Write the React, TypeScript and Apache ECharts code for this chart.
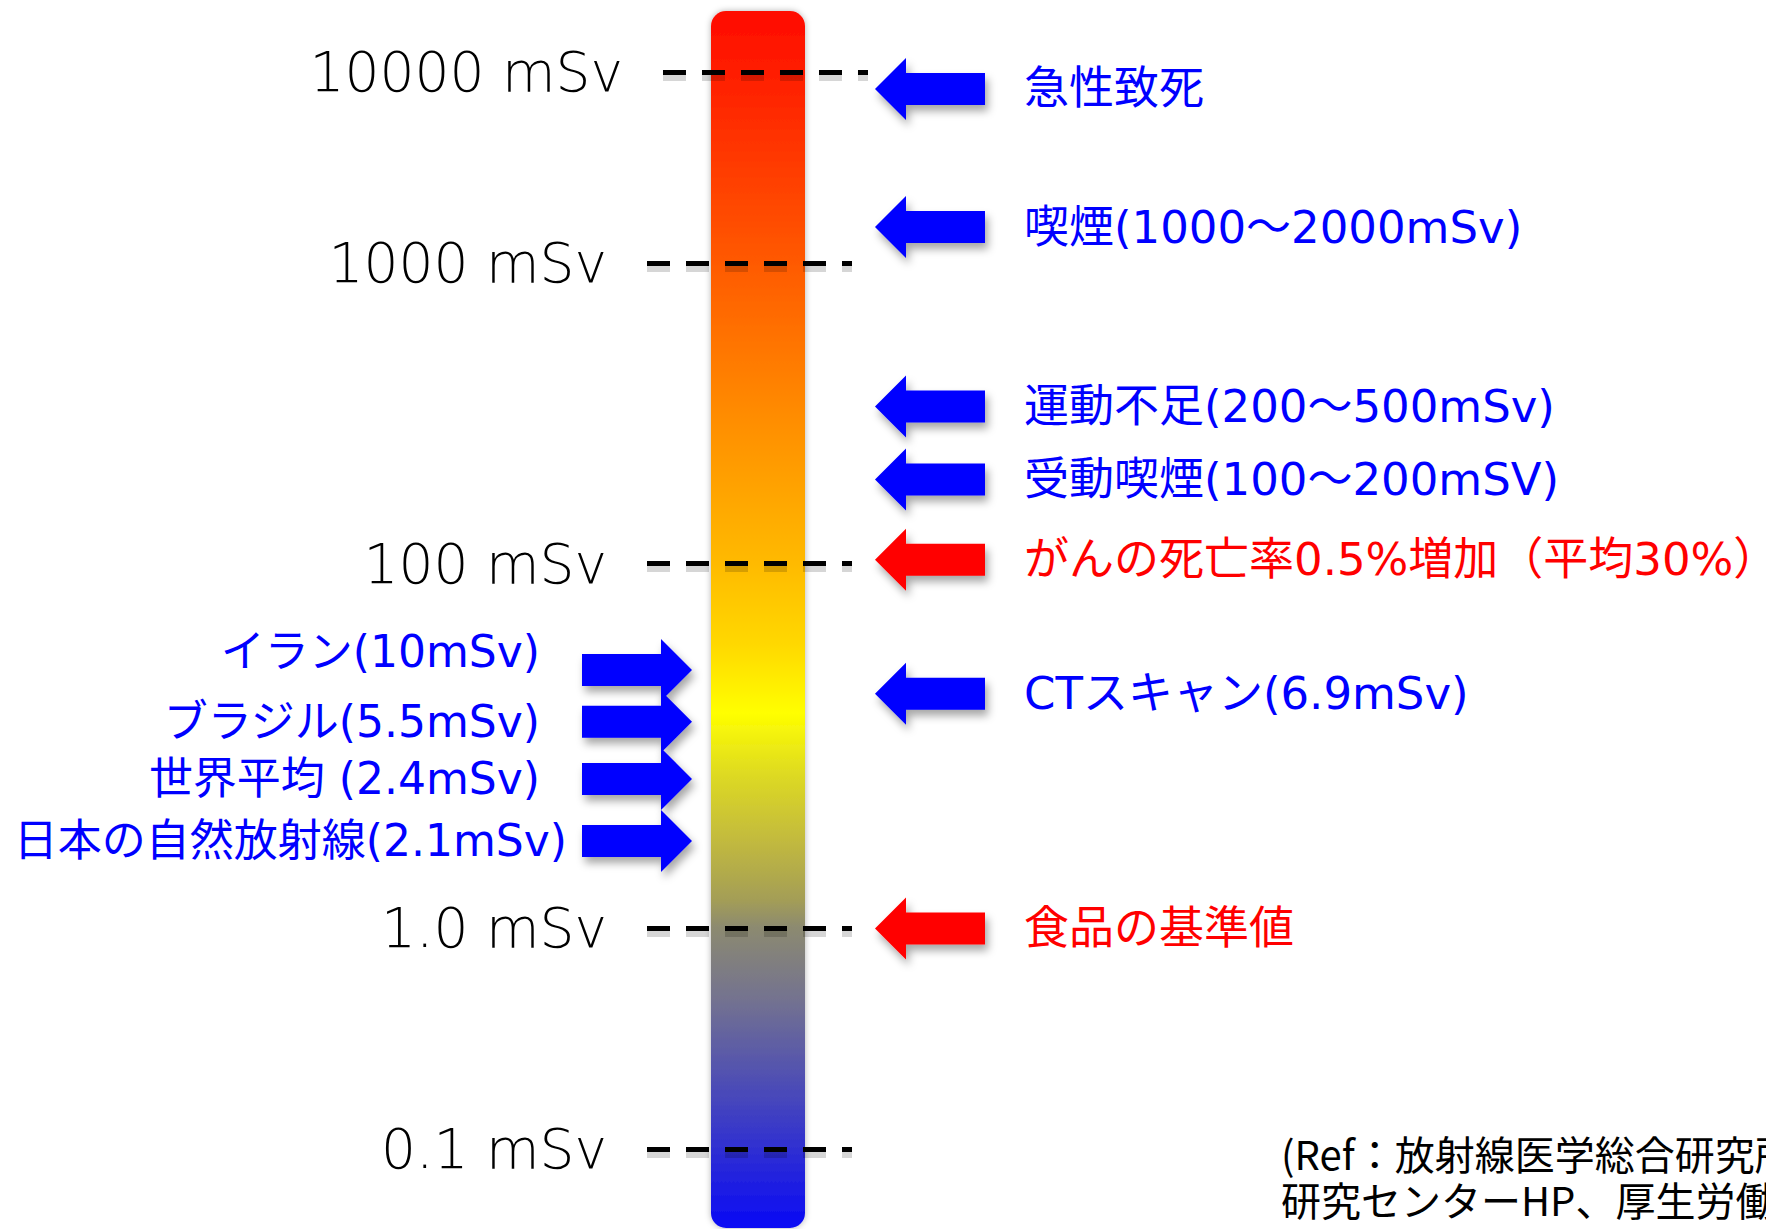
import React, { useEffect, useRef } from "react";
import * as echarts from "echarts";

// Dose scale marks. Levels are positions on the ladder bar: 0 = bottom, 100 = top.
const scaleLabels = ["10000 mSv", "1000 mSv", "100 mSv", "1.0 mSv", "0.1 mSv"];
const scaleLevels = [95, 79.3, 54.6, 24.65, 6.5];

// Exposures pointed at from the right-hand side of the ladder
const rightNotes = [
  "急性致死",
  "喫煙(1000〜2000mSv)",
  "運動不足(200〜500mSv)",
  "受動喫煙(100〜200mSV)",
  "がんの死亡率0.5%増加（平均30%）",
  "CTスキャン(6.9mSv)",
  "食品の基準値",
];
const rightLevels = [93.6, 82.25, 67.5, 61.5, 54.9, 43.9, 24.6];
const rightHighlighted = [false, false, false, false, true, false, true];

// Natural background levels pointed at from the left-hand side
const leftNotes = [
  "イラン(10mSv)",
  "ブラジル(5.5mSv)",
  "世界平均 (2.4mSv)",
  "日本の自然放射線(2.1mSv)",
];
const leftLevels = [45.85, 41.6, 36.9, 31.8];

const sourceNote = "(Ref：放射線医学総合研究所\n研究センターHP、厚生労働";

const BLUE = "#0000ff";
const RED = "#ff0000";
const NOTE_FONT = "'DejaVu Sans', 'Noto Sans CJK JP', sans-serif";

// Arrow outlines (110 x 62 box): shaft 32 high, head 31 long
const ARROW_LEFT = "path://M0,31 L31,0 L31,15 L110,15 L110,47 L31,47 L31,62 Z";
const ARROW_RIGHT = "path://M110,31 L79,0 L79,15 L0,15 L0,47 L79,47 L79,62 Z";

// Per-label nudges for the left-hand notes
const leftLabelTweaks: Record<number, { distance?: number; offset?: number[] }> = {
  0: { offset: [0, -19] },
  3: { distance: 15 },
};

// Horizontal shift of individual scale lines, as a fraction of their length
const scaleLineShift: Record<number, number> = { 0: 0.078 };
const MAX_SHIFT = 0.078;
const SCALE_LINE_PX = 205;

const arrowShadow = {
  opacity: 1,
  shadowBlur: 8,
  shadowOffsetX: 3,
  shadowOffsetY: 6,
  shadowColor: "rgba(0,0,0,0.35)",
};

// the soft shade under each dashed scale line sits this far below it (axis units)
const DASH_SHADE_DROP = 0.33;

export default function App() {
  const ref = useRef<HTMLDivElement>(null);

  useEffect(() => {
    if (!ref.current) return;
    const chart = echarts.init(ref.current, undefined, { renderer: "svg" });

    const ladderFill = new echarts.graphic.LinearGradient(0, 0, 0, 1, [
      { offset: 0, color: "#ff0a00" },
      { offset: 0.208, color: "#ff5a00" },
      { offset: 0.332, color: "#ff8c00" },
      { offset: 0.454, color: "#ffba00" },
      { offset: 0.52, color: "#ffd800" },
      { offset: 0.577, color: "#ffff00" },
      { offset: 0.63, color: "#dcd824" },
      { offset: 0.678, color: "#c4bc3c" },
      { offset: 0.73, color: "#a49e56" },
      { offset: 0.753, color: "#8c8a70" },
      { offset: 0.813, color: "#737290" },
      { offset: 0.895, color: "#4646bc" },
      { offset: 1, color: "#0a0af5" },
    ]);

    const dashed = { type: [23, 16], cap: "butt" };

    const scaleLine = (lv: number, i: number, withLabel: boolean) => {
      const s = scaleLineShift[i] || 0;
      return [
        {
          coord: [s, lv],
          label: withLabel ? { formatter: scaleLabels[i] } : { show: false },
        },
        { coord: [1 + s, lv] },
      ];
    };

    chart.setOption({
      animation: false,
      backgroundColor: "#ffffff",
      title: {
        text: sourceNote,
        left: 1276,
        top: 1125,
        textStyle: {
          fontSize: 40,
          lineHeight: 46,
          fontWeight: "normal",
          color: "#000",
          fontFamily: "'Noto Sans CJK JP', sans-serif",
        },
      },
      grid: [
        { left: 711, top: 11, width: 94, height: 1217 },
        {
          left: 647,
          top: 11,
          width: Math.round(SCALE_LINE_PX * (1 + MAX_SHIFT)),
          height: 1217,
        },
      ],
      xAxis: [
        { type: "category", gridIndex: 0, data: ["scale"], show: false },
        { type: "value", gridIndex: 1, min: 0, max: 1 + MAX_SHIFT, show: false },
      ],
      yAxis: [
        { type: "value", gridIndex: 0, min: 0, max: 100, show: false },
        { type: "value", gridIndex: 1, min: 0, max: 100, show: false },
      ],
      series: [
        {
          type: "bar",
          xAxisIndex: 0,
          yAxisIndex: 0,
          data: [100],
          barWidth: "100%",
          silent: true,
          z: 1,
          itemStyle: {
            color: ladderFill,
            borderRadius: 15,
            shadowBlur: 6,
            shadowColor: "rgba(0,0,0,0.3)",
          },
        },
        {
          // soft shade under the dashed scale lines
          type: "scatter",
          xAxisIndex: 1,
          yAxisIndex: 1,
          symbol: "none",
          silent: true,
          data: scaleLevels.map((lv) => [0.5, lv]),
          z: 2,
          markLine: {
            silent: true,
            symbol: ["none", "none"],
            label: { show: false },
            lineStyle: { color: "rgba(0,0,0,0.16)", width: 9, ...dashed },
            emphasis: { disabled: true },
            data: scaleLevels.map((lv, i) => scaleLine(lv - DASH_SHADE_DROP, i, false)),
          },
        },
        {
          // dashed scale lines with their dose labels
          type: "scatter",
          xAxisIndex: 1,
          yAxisIndex: 1,
          symbol: "none",
          silent: true,
          data: scaleLevels.map((lv) => [0.5, lv]),
          z: 3,
          markLine: {
            silent: true,
            symbol: ["none", "none"],
            lineStyle: { color: "#000", width: 5, opacity: 1, ...dashed },
            label: {
              show: true,
              position: "start",
              distance: 40,
              fontSize: 55,
              fontWeight: 200,
              fontFamily: "'DejaVu Sans', sans-serif",
              color: "#000",
            },
            emphasis: { disabled: true },
            data: scaleLevels.map((lv, i) => scaleLine(lv, i, true)),
          },
        },
        {
          type: "scatter",
          xAxisIndex: 0,
          yAxisIndex: 0,
          clip: false,
          z: 4,
          symbol: ARROW_LEFT,
          symbolSize: [110, 62],
          symbolOffset: [172, 0],
          label: {
            show: true,
            position: "right",
            distance: 39,
            fontSize: 45,
            fontFamily: NOTE_FONT,
          },
          data: rightLevels.map((lv, i) => {
            const c = rightHighlighted[i] ? RED : BLUE;
            return {
              value: ["scale", lv],
              itemStyle: { color: c, ...arrowShadow },
              label: { color: c, formatter: rightNotes[i] },
            };
          }),
        },
        {
          type: "scatter",
          xAxisIndex: 0,
          yAxisIndex: 0,
          clip: false,
          z: 4,
          symbol: ARROW_RIGHT,
          symbolSize: [110, 62],
          symbolOffset: [-121, 0],
          label: {
            show: true,
            position: "left",
            distance: 42,
            fontSize: 44,
            fontFamily: NOTE_FONT,
            color: BLUE,
          },
          data: leftLevels.map((lv, i) => ({
            value: ["scale", lv],
            itemStyle: { color: BLUE, ...arrowShadow },
            label: { formatter: leftNotes[i], ...(leftLabelTweaks[i] || {}) },
          })),
        },
      ],
    });

    return () => chart.dispose();
  }, []);

  return (
    <div
      ref={ref}
      style={{ position: "fixed", left: 0, top: 0, width: 1766, height: 1229 }}
    />
  );
}
